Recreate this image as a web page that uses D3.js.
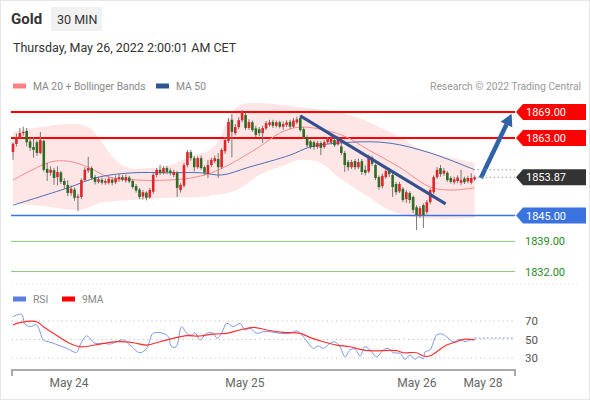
<!DOCTYPE html>
<html>
<head>
<meta charset="utf-8">
<script src="https://cdnjs.cloudflare.com/ajax/libs/d3/7.8.5/d3.min.js"></script>
<style>
body { margin: 0; background: #fff; }
svg { display: block; font-family: Roboto, "Liberation Sans", Arial, sans-serif; }
</style>
</head>
<body>
<div id="chart"></div>
<script>
// 30 min candles, Gold, oldest first
var opens = [1859.7,1861.6,1863.2,1864.1,1864.6,1862.2,1860.9,1862.0,1859.5,1862.3,1855.8,1854.9,1855.5,1853.9,1855.0,1853.0,1852.1,1850.2,1851.0,1849.1,
  1849.3,1853.2,1855.4,1856.0,1853.9,1852.8,1853.3,1852.6,1852.6,1853.3,1852.7,1853.4,1853.9,1853.1,1853.8,1853.0,1851.8,1851.0,1849.4,1850.3,
  1849.2,1850.5,1854.4,1855.6,1854.9,1856.0,1855.4,1854.4,1854.9,1850.9,1851.9,1856.7,1859.7,1858.3,1856.2,1858.3,1856.2,1854.6,1856.7,1857.6,
  1858.1,1856.2,1859.9,1862.3,1867.2,1864.1,1865.5,1867.1,1868.3,1865.3,1866.6,1865.2,1865.0,1864.1,1865.2,1866.0,1866.7,1865.8,1866.6,1865.6,
  1866.0,1866.7,1865.6,1866.6,1867.6,1865.0,1863.2,1862.2,1862.0,1860.9,1861.8,1860.9,1862.0,1861.9,1862.5,1861.5,1861.0,1859.5,1857.4,1856.2,
  1857.6,1856.2,1857.6,1855.6,1855.2,1858.4,1856.7,1853.9,1851.8,1853.9,1855.5,1854.4,1852.3,1850.6,1851.2,1848.8,1850.2,1849.3,1846.9,1845.1,
  1847.4,1845.8,1848.1,1850.4,1853.9,1856.0,1854.7,1854.9,1853.7,1852.7,1853.0,1852.6,1853.6,1852.9,1852.6,1853.4];
var highs = [1862.0,1864.0,1865.3,1865.6,1865.3,1863.0,1863.2,1862.4,1864.4,1862.6,1857.2,1856.4,1856.0,1856.4,1855.3,1853.6,1853.2,1852.0,1851.5,1850.0,
  1853.6,1856.2,1858.6,1856.4,1854.4,1854.0,1853.8,1853.6,1854.1,1853.8,1854.3,1854.6,1854.4,1854.5,1854.2,1853.5,1852.3,1851.4,1850.9,1850.6,
  1851.4,1854.9,1856.0,1856.7,1856.4,1856.5,1855.9,1855.6,1855.3,1852.5,1857.2,1860.2,1860.2,1858.8,1858.7,1858.9,1856.6,1857.9,1858.4,1858.9,
  1859.5,1860.6,1863.2,1867.6,1868.5,1866.2,1867.8,1869.5,1868.8,1867.3,1867.0,1865.8,1865.5,1865.8,1866.9,1867.2,1867.2,1867.0,1867.0,1866.8,
  1867.1,1867.2,1867.6,1867.9,1868.2,1865.5,1863.6,1862.6,1862.4,1862.3,1862.2,1862.5,1863.2,1863.6,1863.0,1863.5,1862.8,1860.0,1857.9,1857.9,
  1858.1,1858.2,1858.1,1856.6,1859.1,1858.9,1857.0,1854.3,1854.7,1855.8,1856.0,1854.9,1852.8,1852.8,1851.6,1850.9,1850.6,1849.6,1847.4,1847.2,
  1847.8,1848.6,1851.3,1854.3,1856.2,1856.7,1856.0,1855.3,1854.1,1854.0,1854.3,1855.6,1854.0,1854.2,1854.8,1854.3];
var lows = [1857.9,1861.0,1862.8,1863.5,1861.0,1860.0,1858.4,1858.8,1859.2,1855.2,1853.0,1854.2,1852.1,1852.0,1852.3,1851.2,1849.5,1849.6,1848.4,1846.0,
  1848.8,1852.8,1854.9,1853.2,1852.2,1852.4,1852.2,1852.1,1852.2,1852.0,1852.3,1852.8,1852.9,1852.6,1852.5,1851.2,1850.3,1848.8,1848.7,1848.5,
  1848.9,1850.0,1853.9,1854.4,1854.5,1854.6,1854.3,1853.9,1849.3,1850.3,1851.5,1856.2,1857.7,1855.2,1855.8,1855.6,1854.3,1853.7,1856.2,1857.1,
  1853.7,1855.8,1859.3,1861.8,1858.5,1863.6,1865.0,1866.6,1864.8,1864.9,1864.4,1863.2,1863.4,1861.8,1864.8,1865.6,1865.3,1865.4,1865.2,1864.9,
  1865.5,1865.1,1865.3,1866.2,1864.4,1862.8,1860.8,1860.4,1860.2,1860.5,1859.0,1860.5,1861.6,1861.5,1860.9,1861.2,1859.0,1855.1,1855.4,1855.8,
  1855.6,1855.8,1854.4,1854.3,1854.8,1856.5,1853.2,1851.0,1851.3,1853.5,1853.9,1849.3,1849.8,1850.2,1848.1,1847.9,1847.8,1845.6,1841.6,1844.4,
  1842.1,1845.3,1847.6,1850.0,1853.5,1854.0,1854.2,1852.8,1852.4,1852.2,1852.5,1852.1,1852.3,1852.5,1852.2,1853.0];
var closes = [1861.6,1863.2,1864.1,1864.4,1862.0,1860.7,1860.2,1859.5,1862.5,1855.6,1854.9,1855.6,1853.7,1855.1,1852.8,1852.1,1850.2,1851.2,1849.1,1849.4,
  1853.2,1855.6,1856.0,1853.7,1852.8,1853.4,1852.6,1853.0,1853.5,1852.6,1853.6,1853.9,1853.3,1853.9,1852.9,1851.6,1850.8,1849.3,1850.4,1849.1,
  1850.9,1854.4,1855.6,1854.9,1856.0,1855.1,1854.9,1855.1,1851.4,1852.1,1856.7,1859.7,1858.3,1856.2,1858.3,1856.0,1854.9,1856.7,1857.9,1858.3,
  1856.2,1860.2,1862.5,1866.7,1864.4,1865.5,1867.1,1868.8,1865.3,1866.7,1864.8,1863.7,1864.1,1865.3,1866.4,1866.6,1865.8,1866.6,1865.6,1866.2,
  1866.6,1865.6,1867.0,1867.3,1864.8,1863.2,1861.3,1860.9,1860.9,1861.8,1860.7,1862.0,1862.7,1862.8,1861.3,1862.7,1859.5,1856.7,1856.2,1857.4,
  1856.2,1857.4,1855.1,1854.9,1858.6,1857.0,1853.7,1851.6,1854.2,1855.3,1854.6,1851.6,1850.4,1852.3,1848.6,1850.4,1848.6,1846.3,1845.1,1846.7,
  1845.1,1848.1,1850.9,1853.9,1855.6,1854.6,1855.4,1853.2,1852.8,1853.4,1853.8,1853.2,1852.7,1853.7,1853.7,1853.87];

// moving averages and bands, sampled at bar index
var ma20Idx = [0, 11, 16, 22, 28, 37, 45, 52, 58, 63, 72, 78, 84, 96, 104, 113, 122, 128, 135];
var ma20 = [1853.2, 1857.4, 1857.6, 1856.2, 1853.9, 1853.2, 1853.2, 1853.7, 1854.9, 1856.7, 1860.9, 1864.1, 1865.5, 1863.7, 1860.2, 1856.2, 1851.6, 1850.9, 1851.4];
var ma50Idx = [0, 16, 25, 35, 45, 55, 61, 69, 81, 87, 99, 110, 122, 135];
var ma50 = [1847.4, 1851.4, 1853.9, 1854.9, 1854.9, 1854.9, 1854.4, 1856.2, 1859.0, 1860.9, 1862.0, 1861.8, 1859.5, 1855.6];
var bandUpIdx = [0, 8, 18, 22.5, 25.5, 30, 34, 40, 46, 52, 57.5, 60.5, 63, 66.5, 72, 81, 90, 98.5, 110, 120, 129, 135];
var bandUp = [1864.4, 1865.5, 1866.2, 1865.3, 1862.5, 1857.9, 1856.0, 1856.0, 1856.7, 1858.8, 1860.2, 1863.0, 1867.6, 1870.6, 1871.1, 1870.4, 1869.5, 1868.3, 1864.4, 1860.2, 1858.3, 1857.2];
var bandLoIdx = [0, 11, 19.5, 25.5, 35, 45, 54.5, 62.5, 66.5, 72, 79.5, 84, 90, 95.5, 103, 110, 119, 135];
var bandLo = [1847.9, 1847.0, 1846.3, 1847.9, 1848.6, 1849.1, 1849.3, 1850.2, 1851.4, 1854.4, 1856.7, 1857.9, 1857.2, 1853.7, 1849.8, 1846.3, 1844.4, 1844.4];

// RSI panel
var rsiIdx = [0, 2.5, 3.5, 5, 6.9, 8.9, 10.3, 11.8, 13.2, 15.7, 18.6, 19.6, 21.5, 24, 26.4, 28.4, 30.3, 32.3, 34.2, 37.1,
  39.1, 41, 43.9, 45.4, 46.4, 47.7, 49.3, 50.8, 52.3, 53.2, 54.7, 56.6, 58.6, 59.6, 61, 62.5, 64.4, 66.4, 67.8, 69.3,
  71.3, 73.2, 75.1, 78.1, 81, 83, 84.9, 86.8, 87.8, 89.3, 90.7, 92.7, 93.7, 94.6, 95.6, 97.1, 98.5, 100, 101.5, 102.9,
  104.4, 106.3, 108.3, 109.7, 111.2, 113.2, 114.6, 116.1, 117.5, 118.5, 120, 120.5, 121.9, 123.9, 125.4, 126.8, 128.7, 130.7, 132.2, 134.1, 135];
var rsi = [74.7, 77.2, 66.8, 63.9, 65.7, 49.5, 47.6, 45.9, 44, 40.5, 36.1, 44, 53.8, 45.9, 45.9, 45.1, 47.6, 49.5, 44, 35.7,
  40.5, 56.7, 56.7, 53, 42.2, 42.2, 63.9, 56.7, 54.9, 57.4, 49.5, 56.7, 56.7, 51.3, 56.7, 67.5, 63.9, 67.5, 60.3, 62.1,
  56.7, 58.5, 58.5, 56.7, 56.7, 59.2, 53, 44, 40.5, 43, 40.5, 45.9, 47.6, 46.5, 42.2, 31.4, 38.6, 39.7, 32.2, 42.2,
  38.6, 31.4, 38.6, 40.5, 35.7, 35.1, 28.6, 33.2, 28.6, 31.4, 29.3, 36.8, 38.6, 54.9, 55.9, 53, 47.6, 50.2, 47.6, 50.2, 50.5];
var rsiMaIdx = [0, 2, 6.9, 8.9, 11.8, 15.7, 19.6, 25.4, 30.3, 35.2, 39.1, 43, 46.9, 50.8, 54.7, 58.6, 62.5, 66.4, 70.3, 74.2,
  79, 83.9, 86.8, 90.7, 94.6, 98.5, 101.5, 104.4, 112.2, 114.1, 118, 120, 121.9, 123.9, 126.8, 129.7, 131.7, 135];
var rsiMa = [65.7, 68.2, 69.2, 63.9, 56.7, 47.6, 42.2, 45.1, 47.6, 46.5, 44, 47.6, 51.3, 54.1, 53.8, 55.9, 56.7, 60.3, 63.2, 60.3,
  57.8, 56.7, 52.3, 47.6, 44, 42.2, 39.4, 37.9, 37.9, 35.7, 35.7, 32.2, 32.2, 36.8, 44, 47.6, 50.2, 49.5];
var rsiLevels = [70, 50, 30];

// key levels and drawings
var levels = [1869, 1863, 1845, 1839, 1832];
var lastPrice = 1853.87;
var trendIdx = [84, 126.5], trendPrice = [1868.1, 1847.7];
var arrowIdx = [136.8, 145.8], arrowPrice = [1853.7, 1868.6];
var dateIdx = [16.4, 67.8, 118.1, 137.4];
var dateLabels = ['May 24', 'May 25', 'May 26', 'May 28'];

var W = 590, H = 400;
var RED = '#ff0000', GREEN_C = '#2f6b22', RED_C = '#e0242a';

var svg = d3.select('#chart').append('svg').attr('width', W).attr('height', H);

svg.append('rect').attr('x', 0.5).attr('y', 0.5).attr('width', W - 1).attr('height', H - 1)
  .attr('fill', '#fff').attr('stroke', '#e6e6e6');

var x = d3.scaleLinear().domain([0, 135]).range([13, 474.7]);
var y = d3.scaleLinear().domain([1845, 1869]).range([215.5, 112]);
var yr = d3.scaleLinear().domain([30, 70]).range([358, 321]);
var x0 = 11, x1 = 515;

// header
svg.append('text').attr('x', 11).attr('y', 24).attr('font-size', 15).attr('font-weight', 'bold')
  .attr('fill', '#333').text('Gold');
svg.append('rect').attr('x', 51).attr('y', 7).attr('width', 51).attr('height', 24).attr('fill', '#f1f1f1');
svg.append('text').attr('x', 57).attr('y', 23.5).attr('font-size', 12.5).attr('fill', '#333').text('30 MIN');
svg.append('text').attr('x', 13).attr('y', 52).attr('font-size', 12.5).attr('fill', '#333')
  .text('Thursday, May 26, 2022 2:00:01 AM CET');

function legendItem(lx, ly, color, label) {
  svg.append('rect').attr('x', lx).attr('y', ly - 2.5).attr('width', 13).attr('height', 5).attr('fill', color);
  svg.append('text').attr('x', lx + 20).attr('y', ly + 4).attr('font-size', 10.3).attr('fill', '#888').text(label);
}
legendItem(13, 86, '#ff8080', 'MA 20 + Bollinger Bands');
legendItem(156, 86, '#2f5597', 'MA 50');
svg.append('text').attr('x', 581).attr('y', 90).attr('text-anchor', 'end').attr('font-size', 10.3)
  .attr('fill', '#999').text('Research \u00a9 2022 Trading Central');

// bollinger band
var smooth = d3.line().curve(d3.curveCatmullRom.alpha(0.5));
var upStr = smooth(bandUpIdx.map(function (d, i) { return [x(d), y(bandUp[i])]; }));
var loStr = smooth(bandLoIdx.map(function (d, i) { return [x(d), y(bandLo[i])]; }).reverse());
svg.append('path').attr('d', upStr + loStr.replace(/^M/, 'L') + 'Z')
  .attr('fill', '#fdd9d9').attr('opacity', 0.65);

// level lines
levels.forEach(function (lv, i) {
  var col = i < 2 ? RED : (i === 2 ? '#3a73e0' : '#8cc47a');
  var w = i < 2 ? 2 : (i === 2 ? 1.5 : 1);
  svg.append('line').attr('x1', x0).attr('x2', x1).attr('y1', y(lv)).attr('y2', y(lv))
    .attr('stroke', col).attr('stroke-width', w);
});

// moving averages
function maLine(idx, vals, color) {
  svg.append('path').attr('d', smooth(idx.map(function (d, i) { return [x(d), y(vals[i])]; })))
    .attr('fill', 'none').attr('stroke', color).attr('stroke-width', 1);
}
maLine(ma20Idx, ma20, '#ff8a8a');
maLine(ma50Idx, ma50, '#4a6fb5');

// candles
var bw = 2.6;
closes.forEach(function (c, i) {
  var o = opens[i];
  svg.append('line').attr('x1', x(i)).attr('x2', x(i)).attr('y1', y(highs[i])).attr('y2', y(lows[i]))
    .attr('stroke', '#777').attr('stroke-width', 1);
  var top = y(Math.max(o, c)), bot = y(Math.min(o, c));
  svg.append('rect').attr('x', x(i) - bw / 2).attr('y', top).attr('width', bw)
    .attr('height', Math.max(1, bot - top)).attr('fill', c >= o ? RED_C : GREEN_C);
});

// trend line and arrow
svg.append('line').attr('x1', x(trendIdx[0])).attr('y1', y(trendPrice[0]))
  .attr('x2', x(trendIdx[1])).attr('y2', y(trendPrice[1]))
  .attr('stroke', '#34508f').attr('stroke-width', 3);
var ax0 = x(arrowIdx[0]), ay0 = y(arrowPrice[0]), ax1 = x(arrowIdx[1]), ay1 = y(arrowPrice[1]);
var ang = Math.atan2(ay1 - ay0, ax1 - ax0), hl = 12, hw = 6.5;
var bx = ax1 - hl * Math.cos(ang), by = ay1 - hl * Math.sin(ang);
svg.append('line').attr('x1', ax0).attr('y1', ay0).attr('x2', bx).attr('y2', by)
  .attr('stroke', '#2f62a6').attr('stroke-width', 4.5);
svg.append('path').attr('d', 'M' + ax1 + ',' + ay1 +
    'L' + (bx + hw * Math.sin(ang)) + ',' + (by - hw * Math.cos(ang)) +
    'L' + (bx - hw * Math.sin(ang)) + ',' + (by + hw * Math.cos(ang)) + 'Z')
  .attr('fill', '#2f62a6');

// dotted continuation to the price tags
[ma50[ma50.length - 1], lastPrice].forEach(function (p) {
  svg.append('line').attr('x1', x(135) + 3).attr('x2', x1).attr('y1', y(p)).attr('y2', y(p))
    .attr('stroke', '#999').attr('stroke-dasharray', '1.5,2.5');
});

// price tags
function tag(p, color, label) {
  var cy = y(p);
  svg.append('path').attr('d', 'M' + (x1 + 1) + ',' + cy + 'L' + (x1 + 8) + ',' + (cy - 8) +
      'L586,' + (cy - 8) + 'L586,' + (cy + 8) + 'L' + (x1 + 8) + ',' + (cy + 8) + 'Z')
    .attr('fill', color);
  svg.append('text').attr('x', 526).attr('y', cy + 4).attr('font-size', 11).attr('fill', '#fff').text(label);
}
tag(levels[0], RED, levels[0].toFixed(2));
tag(levels[1], RED, levels[1].toFixed(2));
tag(lastPrice, '#333', lastPrice.toFixed(2));
tag(levels[2], '#3a73e0', levels[2].toFixed(2));
[levels[3], levels[4]].forEach(function (lv) {
  svg.append('text').attr('x', 525).attr('y', y(lv) + 4).attr('font-size', 11).attr('fill', '#1f8a1f')
    .text(lv.toFixed(2));
});

// separator
svg.append('line').attr('x1', 12).attr('x2', 580).attr('y1', 284).attr('y2', 284)
  .attr('stroke', '#e2e2e2').attr('stroke-dasharray', '1,3');

// RSI panel
legendItem(13, 299, '#5b7fe0', 'RSI');
legendItem(62, 299, '#ff0000', '9MA');
rsiLevels.forEach(function (lv) {
  svg.append('line').attr('x1', 12).attr('x2', x1).attr('y1', yr(lv)).attr('y2', yr(lv))
    .attr('stroke', '#bbb').attr('stroke-dasharray', '1,3.5');
  svg.append('text').attr('x', 525).attr('y', yr(lv) + 4).attr('font-size', 11.5).attr('fill', '#555').text(lv);
});
var rline = d3.line().curve(d3.curveCatmullRom.alpha(0.5));
svg.append('path').attr('d', rline(rsiIdx.map(function (d, i) { return [x(d), yr(rsi[i])]; })))
  .attr('fill', 'none').attr('stroke', '#7b96ea').attr('stroke-width', 1);
svg.append('line').attr('x1', x(135)).attr('x2', x1).attr('y1', yr(rsi[rsi.length - 1]) - 1)
  .attr('y2', yr(rsi[rsi.length - 1]) - 1)
  .attr('stroke', '#a9bbf0').attr('stroke-width', 1.5).attr('stroke-dasharray', '2,2');
svg.append('path').attr('d', rline(rsiMaIdx.map(function (d, i) { return [x(d), yr(rsiMa[i])]; })))
  .attr('fill', 'none').attr('stroke', '#ff3030').attr('stroke-width', 1.2);

// time axis
var axisY = 370;
svg.append('path').attr('d', 'M12,' + (axisY + 6) + 'L12,' + axisY + 'L' + x1 + ',' + axisY + 'L' + x1 + ',' + (axisY + 6))
  .attr('fill', 'none').attr('stroke', '#aaa').attr('stroke-width', 2);
dateIdx.forEach(function (d, i) {
  svg.append('text').attr('x', x(d)).attr('y', 387).attr('text-anchor', 'middle').attr('font-size', 12)
    .attr('fill', '#666').text(dateLabels[i]);
});
</script>
</body>
</html>
